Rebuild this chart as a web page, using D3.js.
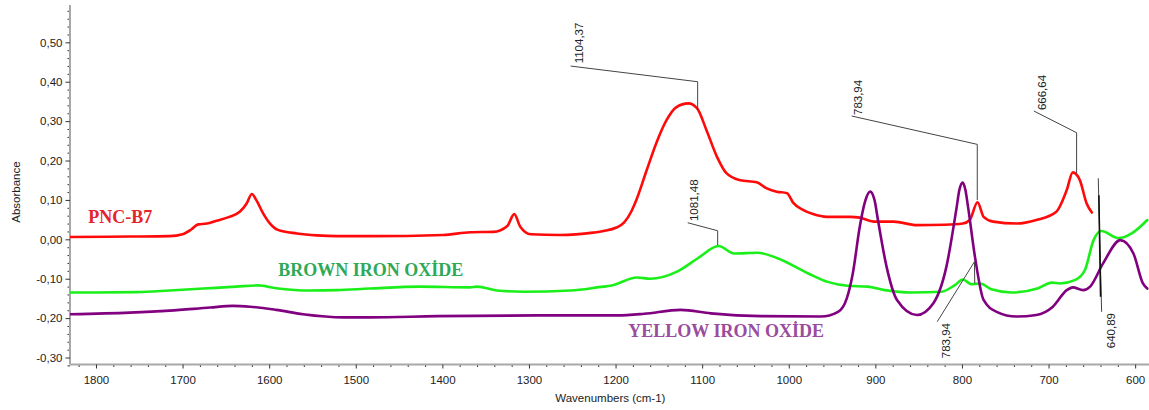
<!DOCTYPE html>
<html><head><meta charset="utf-8">
<script src="https://cdn.jsdelivr.net/npm/d3@7"></script>
<style>body{margin:0;background:#fff}svg{display:block}</style>
</head><body><svg id="c" width="1149" height="410"></svg>
<script>
// ---- data ----
const redWn  = [1830,1761,1715,1700,1690,1682,1672,1661,1646,1634,1626,1620,1615,1607,1599,1590,1568,1545,1522,1484,1399,1368,1341,1325,1317,1310,1298,1264,1226,1214,1199,1190,1182,1176,1164,1153,1141,1130,1116,1106,1095,1083,1072,1056,1037,1026,1014,1002,995,983,972,956,929,918,902,879,852,820,799,791,782,775,764,737,714,691,679,672,664,656,650];
const redAbs = [0.006,0.007,0.008,0.013,0.025,0.038,0.040,0.047,0.057,0.070,0.091,0.115,0.100,0.066,0.040,0.024,0.015,0.010,0.008,0.008,0.011,0.018,0.019,0.034,0.064,0.032,0.013,0.011,0.017,0.021,0.030,0.043,0.070,0.100,0.176,0.244,0.303,0.335,0.345,0.333,0.277,0.210,0.168,0.150,0.145,0.130,0.121,0.117,0.093,0.074,0.064,0.057,0.057,0.055,0.045,0.045,0.036,0.037,0.040,0.049,0.094,0.057,0.045,0.040,0.049,0.070,0.125,0.170,0.151,0.091,0.068];

const greenWn  = [1830,1753,1715,1676,1638,1613,1592,1553,1522,1484,1426,1368,1360,1337,1306,1252,1214,1206,1175,1160,1129,1105,1081,1063,1036,1013,978,955,932,909,889,858,824,808,799,789,779,766,743,712,696,687,669,658,648,639,619,604,586];
const greenAbs = [-0.135,-0.134,-0.130,-0.125,-0.120,-0.117,-0.124,-0.130,-0.129,-0.125,-0.120,-0.122,-0.120,-0.130,-0.133,-0.130,-0.120,-0.118,-0.097,-0.100,-0.082,-0.048,-0.017,-0.036,-0.034,-0.048,-0.086,-0.108,-0.118,-0.120,-0.129,-0.135,-0.133,-0.116,-0.102,-0.114,-0.112,-0.127,-0.135,-0.124,-0.110,-0.112,-0.103,-0.078,-0.002,0.021,0.003,0.015,0.049];

const purpleWn  = [1830,1761,1715,1668,1642,1622,1592,1561,1514,1484,1406,1290,1198,1167,1125,1090,1032,963,943,933,926,918,912,906,901,897,887,875,852,833,818,806,803,799,796,793,785,775,760,737,714,695,679,672,660,652,637,617,602,591,586];
const purpleAbs = [-0.190,-0.186,-0.181,-0.173,-0.169,-0.171,-0.179,-0.190,-0.198,-0.198,-0.195,-0.193,-0.193,-0.189,-0.179,-0.188,-0.195,-0.196,-0.184,-0.150,-0.086,0.032,0.095,0.121,0.100,0.049,-0.070,-0.154,-0.192,-0.162,-0.070,0.083,0.125,0.144,0.125,0.083,-0.044,-0.154,-0.184,-0.196,-0.192,-0.171,-0.129,-0.122,-0.129,-0.120,-0.061,-0.002,-0.036,-0.112,-0.125];

const seriesNames = ["PNC-B7","BROWN IRON OXİDE","YELLOW IRON OXİDE"];

const xTicks = [1800,1700,1600,1500,1400,1300,1200,1100,1000,900,800,700,600];
const xTickLabels = ["1800","1700","1600","1500","1400","1300","1200","1100","1000","900","800","700","600"];
const yTicks = [-0.3,-0.2,-0.1,0,0.1,0.2,0.3,0.4,0.5];
const yTickLabels = ["-0,30","-0,20","-0,10","0,00","0,10","0,20","0,30","0,40","0,50"];

const peakLabels = ["1104,37","1081,48","783,94","666,64","783,94","640,89"];

// ---- layout / style (not data) ----
const svg = d3.select("#c");
const x = d3.scaleLinear().domain([1830, 584]).range([70, 1149]);
const y = d3.scaleLinear().domain([-0.32, 0.595]).range([365.4, 4.9]);
const sansFont = "'Liberation Sans', Arial, sans-serif";
const serifFont = "'Liberation Serif', 'Times New Roman', serif";

svg.append("defs").append("clipPath").attr("id","clip")
  .append("rect").attr("x",70).attr("y",0).attr("width",1079).attr("height",366);

// axes
const axisX = 364.5;
const minorX = d3.range(1820, 580, -20).filter(v => v % 100 !== 0);
const minorY = d3.range(-0.32, 0.5901, 0.02).map(v => +v.toFixed(2)).filter(v => Math.abs(Math.round(v*10) - v*10) > 1e-6);

const gx = svg.append("g").attr("transform", `translate(0,${axisX})`);
gx.call(d3.axisBottom(x).tickValues(minorX).tickSize(2.5).tickFormat(""));
gx.call(g => { g.select(".domain").remove(); });
const gxMaj = svg.append("g").attr("transform", `translate(0,${axisX})`)
  .call(d3.axisBottom(x).tickValues(xTicks).tickSize(4).tickPadding(7).tickFormat((d,i)=>xTickLabels[i]));
gxMaj.select(".domain").attr("d", `M70,0H1149`).attr("stroke","#a8a8a8").attr("stroke-width",2);
gxMaj.selectAll("text").attr("font-family",sansFont).attr("font-size","11.5px").attr("fill","#222");

const gy = svg.append("g").attr("transform","translate(70,0)");
gy.call(d3.axisLeft(y).tickValues(minorY).tickSize(2.5).tickFormat(""));
gy.select(".domain").remove();
const gyMaj = svg.append("g").attr("transform","translate(70,0)")
  .call(d3.axisLeft(y).tickValues(yTicks).tickSize(4.5).tickPadding(3).tickFormat((d,i)=>yTickLabels[i]));
gyMaj.select(".domain").attr("d", `M0,${y.range()[1]}V${axisX}`).attr("stroke","#a8a8a8").attr("stroke-width",2);
svg.selectAll(".tick line").attr("stroke","#333");
gyMaj.selectAll("text").attr("font-family",sansFont).attr("font-size","11.5px").attr("fill","#222");

// axis titles
svg.append("text").attr("x", x(1206)).attr("y", 402).attr("text-anchor","middle")
  .attr("font-family",sansFont).attr("font-size","11.5px").attr("fill","#222").text("Wavenumbers (cm-1)");
svg.append("text").attr("transform", `translate(20,${y(0.12)}) rotate(-90)`).attr("text-anchor","middle")
  .attr("font-family",sansFont).attr("font-size","11.5px").attr("fill","#222").text("Absorbance");

// series lines
const line = d3.line().x(d=>x(d[0])).y(d=>y(d[1])).curve(d3.curveMonotoneX);
const plot = svg.append("g").attr("clip-path","url(#clip)");
const series = [
  {wn: greenWn, ab: greenAbs, color: "#1aef1a"},
  {wn: redWn, ab: redAbs, color: "#ff0a0a"},
  {wn: purpleWn, ab: purpleAbs, color: "#800080"}
];
series.forEach(s => {
  plot.append("path").datum(s.wn.map((w,i)=>[w, s.ab[i]]))
    .attr("d", line).attr("fill","none").attr("stroke", s.color)
    .attr("stroke-width",2.6).attr("stroke-linejoin","round").attr("stroke-linecap","round");
});

// series names
const nameAnchors = [[1809, 0.042, "#e5232b"], [1589.5, -0.093, "#2fa957"], [1185.3, -0.2487, "#9a4c9e"]];
seriesNames.forEach((n,i) => {
  svg.append("text").attr("x", x(nameAnchors[i][0])).attr("y", y(nameAnchors[i][1]))
    .attr("font-family",serifFont).attr("font-weight","bold").attr("font-size","18px")
    .attr("fill", nameAnchors[i][2]).text(n);
});

// peak annotations
const annText = [
  [1237.6, 0.4467, "start"], [1104.8, 0.0464, "start"], [915.5, 0.3155, "start"],
  [703, 0.328, "start"], [813.9, -0.2124, "end"], [623.3, -0.187, "end"]
];
const annLeaders = [
  [[1251.9,0.4398],[1105.2,0.400],[1105.2,0.328]],
  [[1116.7,0.0421],[1082.1,0.0218],[1082.1,-0.0145]],
  [[927.4,0.313],[782.3,0.241],[782.3,0.0997]],
  [[716.9,0.3256],[667.6,0.2706],[667.6,0.1675]],
  [[828.5,-0.209],[785.6,-0.057],[785.2,-0.112]],
  [[642.6,0.155],[638.7,-0.184]]
];
const leaderLine = d3.line().x(d=>x(d[0])).y(d=>y(d[1]));
annLeaders.forEach(pts => {
  svg.append("path").attr("d", leaderLine(pts)).attr("fill","none")
    .attr("stroke","#444").attr("stroke-width",1);
});
svg.append("path").attr("d", leaderLine([[641.9,0.112],[639.9,-0.146]]))
  .attr("stroke","#111").attr("stroke-width",1.6).attr("fill","none");
peakLabels.forEach((t,i) => {
  svg.append("text").attr("transform", `translate(${x(annText[i][0])},${y(annText[i][1])}) rotate(-90)`)
    .attr("text-anchor", annText[i][2]).attr("font-family",sansFont).attr("font-size","11.5px")
    .attr("fill","#222").text(t);
});
</script></body></html>
